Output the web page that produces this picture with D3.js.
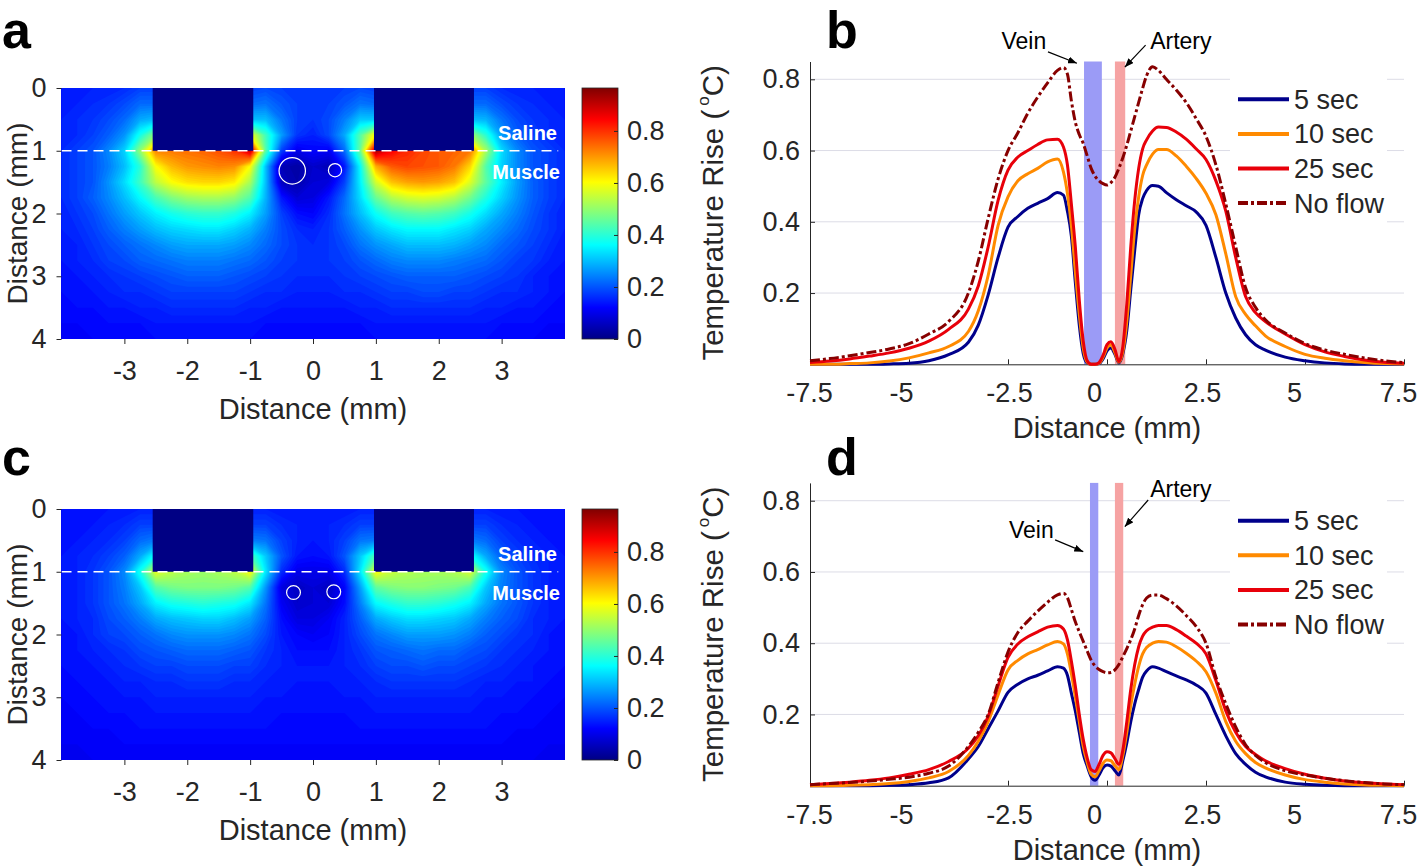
<!DOCTYPE html>
<html><head><meta charset="utf-8">
<script src="https://cdn.jsdelivr.net/npm/d3@7"></script>
<style>
html,body{margin:0;padding:0;background:#fff;}
svg{display:block;font-family:"Liberation Sans",Arial,Helvetica,sans-serif;}
</style></head><body>
<svg id="fig" width="1418" height="868"></svg>
<script>
// ---------------- DATA ----------------
// Heat-map grid (panels a, c): columns = lateral distance (mm), rows = depth (mm)
const heatCols = [-4,-3.75,-3.5,-3.25,-3,-2.75,-2.5,-2.25,-2,-1.75,-1.5,-1.25,-1,-0.75,-0.5,-0.25,0,0.25,0.5,0.75,1,1.25,1.5,1.75,2,2.25,2.5,2.75,3,3.25,3.5,3.75,4];
const heatRows = [0,0.25,0.5,0.75,1,1.25,1.5,1.75,2,2.25,2.5,2.75,3,3.25,3.5,3.75,4];
// temperature rise in hundredths of a degree C, panel a
const heatA = [
[14,14,15,15,16,18, 18,18,18,18,18,18,18, 19,18,17,17,17,18,19, 18,18,18,18,18,18,18, 18,16,15,15,14,14],
[14,15,16,17,19,22, 22,20,20,20,20,20,22, 23,20,18,17,18,20,23, 22,20,20,20,20,20,22, 22,19,17,16,15,14],
[15,16,17,19,22,28, 30,26,25,25,25,26,30, 30,23,18,17,19,24,31, 31,26,25,25,25,26,30, 29,23,19,17,16,15],
[15,16,18,21,26,38, 50,55,55,55,55,56,60, 42,27,17,15,19,28,44, 62,58,56,56,56,55,52, 40,27,21,18,16,15],
[16,18,20,25,32,50, 72,73,74,75,77,80,90, 44,18,10,12,11,22,46, 93,85,81,78,76,75,73, 52,33,25,20,18,16],
[16,18,20,24,30,40, 60,67,70,71,72,71,60, 30,5,3,7,5,14,36, 68,76,78,77,76,73,64, 44,32,25,20,18,16],
[16,18,20,26,33,42, 54,60,63,64,64,62,52, 30,6,4,8,9,18,35, 56,66,69,70,69,66,57, 45,35,27,21,18,16],
[16,18,21,25,30,36, 43,48,51,52,52,50,44, 29,14,8,9,14,22,33, 46,53,56,57,56,53,47, 39,32,26,21,18,16],
[15,17,19,23,27,31, 35,38,40,41,41,39,35, 27,18,13,12,16,23,30, 37,42,44,45,44,42,38, 33,28,24,20,17,15],
[15,16,18,21,24,27, 30,32,33,34,34,32,29, 24,19,16,15,17,21,26, 31,34,36,36,36,34,32, 28,25,22,19,17,15],
[14,15,17,19,21,23, 25,27,28,28,28,27,25, 22,19,17,16,17,19,23, 26,28,30,30,30,29,27, 25,22,20,18,16,14],
[14,15,16,18,19,21, 22,23,24,24,24,23,22, 20,18,17,16,17,18,20, 22,24,25,25,25,24,23, 22,20,18,17,15,14],
[13,14,15,16,17,18, 19,20,21,21,21,20,19, 18,17,16,16,16,17,18, 19,20,21,21,21,21,20, 19,18,17,15,14,13],
[13,13,14,15,16,16, 17,18,18,18,18,18,17, 16,16,15,15,15,16,16, 17,18,18,19,19,18,18, 17,16,16,15,14,13],
[12,13,13,14,14,15, 15,16,16,16,16,16,15, 15,14,14,14,14,14,15, 15,16,16,16,16,16,16, 15,15,14,14,13,12],
[12,12,12,13,13,13, 14,14,14,14,14,14,14, 13,13,13,13,13,13,13, 14,14,14,14,14,14,14, 14,13,13,13,12,12],
[11,11,12,12,12,12, 13,13,13,13,13,13,13, 12,12,12,12,12,12,12, 13,13,13,13,13,13,13, 13,12,12,12,11,11]
];
// panel c
const heatC = [
[13,13,13,14,14,15, 15,15,15,15,15,15,15, 15,14,14,14,14,14,15, 15,15,15,15,15,15,15, 15,14,14,13,13,13],
[13,13,14,15,16,18, 18,17,17,17,17,17,18, 18,16,15,14,15,16,18, 18,17,17,17,17,17,18, 18,16,15,14,13,13],
[13,14,15,16,18,22, 24,22,21,21,21,22,24, 23,18,15,14,15,18,23, 24,22,21,21,21,22,24, 22,18,16,15,14,13],
[14,15,16,18,21,28, 38,42,42,42,42,42,44, 31,20,14,13,14,20,31, 44,42,42,42,42,42,38, 28,21,18,16,15,14],
[14,15,17,20,25,38, 58,54,52,51,52,54,60, 34,16,10,10,10,16,34, 60,55,53,52,52,53,57, 38,25,20,17,15,14],
[14,15,17,20,24,31, 44,47,48,48,48,47,44, 26,9,6,8,6,12,27, 45,48,49,49,48,47,43, 31,24,20,17,15,14],
[14,15,17,20,23,28, 35,38,39,40,39,38,34, 23,11,7,8,8,13,24, 36,39,41,41,40,38,35, 28,23,20,17,15,14],
[14,15,16,19,21,24, 28,30,31,32,32,30,27, 21,13,9,9,11,15,21, 28,31,33,33,32,31,28, 24,21,19,16,15,14],
[13,14,16,18,19,21, 23,25,26,26,26,25,23, 19,14,12,11,12,15,19, 23,25,27,27,27,26,24, 21,19,17,16,14,13],
[13,14,15,16,17,19, 20,21,22,22,22,21,20, 17,15,13,13,13,15,17, 20,21,22,23,22,22,20, 19,17,16,15,14,13],
[13,13,14,15,16,17, 18,18,19,19,19,18,18, 16,15,14,14,14,15,16, 18,19,19,20,19,19,18, 17,16,15,14,13,13],
[12,13,13,14,15,15, 16,16,17,17,17,16,16, 15,14,14,14,14,14,15, 16,17,17,17,17,17,16, 15,15,14,14,13,12],
[12,12,13,13,14,14, 15,15,15,15,15,15,15, 14,14,13,13,13,14,14, 15,15,15,15,15,15,15, 14,14,13,13,12,12],
[11,12,12,13,13,13, 14,14,14,14,14,14,14, 13,13,13,13,13,13,13, 14,14,14,14,14,14,14, 13,13,13,12,12,11],
[11,11,12,12,12,13, 13,13,13,13,13,13,13, 13,12,12,12,12,12,13, 13,13,13,13,13,13,13, 13,12,12,12,11,11],
[11,11,11,11,12,12, 12,12,12,12,12,12,12, 12,12,12,12,12,12,12, 12,12,12,12,12,12,12, 12,12,11,11,11,11],
[10,10,11,11,11,11, 11,11,11,11,11,11,11, 11,11,11,11,11,11,11, 11,11,11,11,11,11,11, 11,11,11,11,10,10]
];
const electrodes = [{x0:-2.55, x1:-0.95, depth:1}, {x0:0.97, x1:2.56, depth:1}];
const salineDepth = 1;
const vesselsA = [{x:-0.33, y:1.32, r:0.21}, {x:0.35, y:1.31, r:0.105}];
const vesselsC = [{x:-0.31, y:1.33, r:0.11}, {x:0.33, y:1.32, r:0.11}];
const heatXTicks = [-3,-2,-1,0,1,2,3];
const heatYTicks = [0,1,2,3,4];
const cbarTicks = [0,0.2,0.4,0.6,0.8];
const cbarMax = 0.965;

// Line profiles (panels b, d)
const profileX = [-7.5,-7,-6.5,-6,-5.5,-5,-4.5,-4,-3.5,-3.25,-3,-2.75,-2.5,-2.25,-2,-1.75,-1.5,-1.25,-1.1,-1,-0.9,-0.8,-0.7,-0.6,-0.5,-0.4,-0.3,-0.2,-0.1,0,0.1,0.2,0.3,0.4,0.5,0.6,0.7,0.8,0.9,1,1.15,1.3,1.5,1.75,2,2.25,2.5,2.75,3,3.25,3.5,3.75,4,4.5,5,5.5,6,6.5,7,7.5];
const seriesNames = ["5 sec","10 sec","25 sec","No flow"];
const seriesColors = ["#00008b","#ff8a00","#e8000a","#870000"];
const seriesDash = [null,null,null,"10,3,3,3"];
const b5 = [0,0,0,0,0.001,0.003,0.01,0.027, 0.062,0.11,0.195,0.3,0.385,0.415,0.438,0.452,0.465,0.482, 0.475,0.43,0.36,0.23,0.11,0.03,0.004,0,0,0.002,0.015, 0.038, 0.046,0.028,0.004,0.03,0.095,0.21,0.32,0.42,0.465,0.488, 0.502,0.5,0.482,0.462,0.445,0.428,0.39,0.3,0.2,0.13,0.083,0.055,0.04, 0.02,0.01,0.004,0.001,0,0,0];
const b10 = [0,0,0.002,0.004,0.009,0.018,0.032,0.05, 0.092,0.15,0.25,0.39,0.47,0.515,0.535,0.55,0.568,0.576, 0.54,0.48,0.39,0.26,0.14,0.045,0.006,0,0,0.003,0.02, 0.046, 0.055,0.033,0.006,0.035,0.12,0.25,0.38,0.47,0.53,0.56, 0.59,0.603,0.603,0.585,0.556,0.522,0.48,0.42,0.31,0.19,0.14,0.108,0.08, 0.05,0.028,0.017,0.01,0.005,0.002,0.001];
const b25 = [0.005,0.009,0.015,0.023,0.032,0.045,0.065,0.098, 0.155,0.22,0.33,0.46,0.545,0.582,0.6,0.617,0.63,0.632, 0.61,0.56,0.45,0.33,0.18,0.065,0.01,0,0,0.005,0.025, 0.055, 0.063,0.042,0.008,0.05,0.17,0.33,0.46,0.55,0.605,0.63, 0.655,0.666,0.665,0.652,0.632,0.605,0.575,0.515,0.43,0.3,0.19,0.145,0.12, 0.085,0.055,0.035,0.022,0.012,0.006,0.003];
const bNF = [0.01,0.016,0.024,0.033,0.043,0.058,0.085,0.12, 0.2,0.29,0.41,0.52,0.6,0.65,0.705,0.75,0.79,0.825, 0.833,0.815,0.74,0.68,0.645,0.62,0.585,0.55,0.528,0.515,0.507, 0.503, 0.51,0.525,0.55,0.58,0.615,0.655,0.695,0.735,0.775,0.81, 0.835,0.825,0.8,0.77,0.735,0.69,0.64,0.56,0.45,0.33,0.215,0.16,0.125, 0.088,0.058,0.04,0.028,0.018,0.01,0.005];
const d5 = [0,0,0,0,0.001,0.003,0.008,0.022, 0.075,0.11,0.16,0.21,0.262,0.285,0.3,0.31,0.322,0.334, 0.33,0.31,0.26,0.21,0.15,0.09,0.055,0.025,0.015,0.03,0.05, 0.058, 0.055,0.042,0.03,0.07,0.12,0.18,0.23,0.27,0.305,0.322, 0.334,0.33,0.32,0.308,0.297,0.283,0.26,0.2,0.14,0.09,0.06,0.038,0.025, 0.01,0.004,0.001,0,0,0,0];
const d10 = [0,0,0.001,0.003,0.006,0.012,0.022,0.04, 0.085,0.125,0.18,0.255,0.325,0.352,0.37,0.382,0.395,0.405, 0.398,0.37,0.315,0.25,0.18,0.11,0.065,0.032,0.025,0.042,0.063, 0.072, 0.07,0.056,0.045,0.085,0.15,0.225,0.285,0.335,0.37,0.388, 0.4,0.405,0.403,0.39,0.372,0.35,0.32,0.26,0.18,0.125,0.09,0.065,0.05, 0.03,0.017,0.01,0.005,0.002,0.001,0];
const d25 = [0.003,0.006,0.01,0.015,0.022,0.032,0.045,0.068, 0.105,0.14,0.195,0.28,0.36,0.398,0.418,0.432,0.445,0.45, 0.44,0.41,0.35,0.28,0.2,0.13,0.078,0.045,0.04,0.06,0.085, 0.095, 0.092,0.076,0.06,0.1,0.18,0.27,0.34,0.39,0.42,0.435, 0.445,0.45,0.45,0.438,0.42,0.4,0.37,0.295,0.21,0.15,0.11,0.088,0.07, 0.048,0.032,0.021,0.013,0.008,0.005,0.003];
const dNF = [0.003,0.006,0.009,0.013,0.018,0.024,0.035,0.055, 0.11,0.15,0.2,0.29,0.375,0.43,0.462,0.49,0.515,0.536, 0.54,0.528,0.495,0.46,0.432,0.405,0.378,0.352,0.336,0.326,0.32, 0.317, 0.318,0.325,0.34,0.362,0.385,0.41,0.44,0.478,0.508,0.527, 0.535,0.535,0.525,0.505,0.478,0.447,0.4,0.305,0.23,0.165,0.115,0.085,0.065, 0.042,0.03,0.021,0.014,0.009,0.005,0.003];
const profileXTicks = [-7.5,-5,-2.5,0,2.5,5,7.5];
const profileYTicks = [0.2,0.4,0.6,0.8];
const bandsB = [{name:"Vein", center:-0.355, half:0.225, fill:"#9b9bf6"}, {name:"Artery", center:0.33, half:0.13, fill:"#f6a3a3"}];
const bandsD = [{name:"Vein", center:-0.325, half:0.105, fill:"#9b9bf6"}, {name:"Artery", center:0.305, half:0.105, fill:"#f6a3a3"}];
// annotation anchors in data units: text pos, arrow start, arrow tip
const annB = [
  {label:"Vein", anchor:"middle", tx:-2.1, ty:0.885, x1:-1.49, y1:0.877, x2:-0.76, y2:0.845},
  {label:"Artery", anchor:"start", tx:1.09, ty:0.885, x1:0.975, y1:0.896, x2:0.45, y2:0.834}
];
const annD = [
  {label:"Vein", anchor:"middle", tx:-1.91, ty:0.695, x1:-1.31, y1:0.69, x2:-0.6, y2:0.657},
  {label:"Artery", anchor:"start", tx:1.09, ty:0.81, x1:1.04, y1:0.802, x2:0.45, y2:0.727}
];

// ---------------- DRAW ----------------
const svg = d3.select("#fig");
const defs = svg.append("defs");
const TXT = "#262626";
const jetStops = [0,0.125,0.375,0.625,0.875,1];
const jetColors = ["#000084","#0000ff","#00ffff","#ffff00","#ff0000","#800000"];
const jet = d3.scaleLinear().domain(jetStops.map(t=>t*cbarMax)).range(jetColors).clamp(true);
const thStep = 0.01;
const heatThresholds = d3.range(0, 1.0, thStep);
// small horizontal nudges of the profile x tick labels (as placed in the original figure)
const xLabelNudge = [-1,-8,1,-13,-4,-11,-6];

const grad = defs.append("linearGradient").attr("id","jetGrad").attr("x1",0).attr("y1",1).attr("x2",0).attr("y2",0);
jetStops.forEach((t,i)=>grad.append("stop").attr("offset",t).attr("stop-color",jetColors[i]));

defs.append("marker").attr("id","arrow").attr("markerUnits","userSpaceOnUse")
  .attr("markerWidth",9).attr("markerHeight",7).attr("refX",9).attr("refY",3.5).attr("orient","auto")
  .append("path").attr("d","M0,0 L9,3.5 L0,7 Z").attr("fill","#000");

function styleAxis(g, size){
  g.selectAll("text").attr("font-size",size).attr("fill",TXT).attr("font-family","Liberation Sans, Arial, sans-serif");
  g.selectAll("line").attr("stroke",TXT);
  g.selectAll(".domain").attr("stroke",TXT);
}

function heatPanel(p){
  const x = d3.scaleLinear().domain([-4,4]).range([61.5,564.5]);
  const y = d3.scaleLinear().domain([0,4]).range([p.top,p.bottom]);
  const g = svg.append("g");
  const cid = "clip"+p.letter;
  defs.append("clipPath").attr("id",cid).append("rect")
    .attr("x",x(-4)).attr("y",y(0)).attr("width",x(4)-x(-4)).attr("height",y(4)-y(0));
  const hg = g.append("g").attr("clip-path",`url(#${cid})`);
  const nx = heatCols.length, ny = heatRows.length;
  const dx = heatCols[1]-heatCols[0], dy = heatRows[1]-heatRows[0];
  const values = p.grid.flat().map(v=>v/100);
  const contours = d3.contours().size([nx,ny]).thresholds(heatThresholds)(values);
  const proj = d3.geoTransform({point: function(u,v){ this.stream.point(x(heatCols[0]+(u-0.5)*dx), y(heatRows[0]+(v-0.5)*dy)); }});
  const path = d3.geoPath(proj);
  hg.selectAll("path.cont").data(contours).join("path").attr("class","cont")
    .attr("d",path).attr("fill",d=>jet(d.value+thStep/2));
  hg.selectAll("rect.el").data(electrodes).join("rect").attr("class","el")
    .attr("x",d=>x(d.x0)).attr("width",d=>x(d.x1)-x(d.x0))
    .attr("y",y(0)).attr("height",d=>y(d.depth)-y(0)).attr("fill",jet(0));
  hg.append("line").attr("x1",x(-4)).attr("x2",x(3.9)).attr("y1",y(salineDepth)).attr("y2",y(salineDepth))
    .attr("stroke","#fff").attr("stroke-width",1.6).attr("stroke-dasharray","10,6");
  hg.selectAll("circle.v").data(p.vessels).join("circle").attr("class","v")
    .attr("cx",d=>x(d.x)).attr("cy",d=>y(d.y)).attr("r",d=>x(d.r)-x(0))
    .attr("fill","none").attr("stroke","#fff").attr("stroke-width",1.2);
  g.append("text").attr("x",557).attr("y",y(salineDepth)-11).attr("text-anchor","end")
    .attr("font-size",20).attr("font-weight","bold").attr("fill","#fff").text("Saline");
  g.append("text").attr("x",560).attr("y",y(salineDepth)+28).attr("text-anchor","end")
    .attr("font-size",20).attr("font-weight","bold").attr("fill","#fff").text("Muscle");
  // axes
  const gx = g.append("g").attr("transform",`translate(0,${y(4)})`)
    .call(d3.axisBottom(x).tickValues(heatXTicks).tickSize(5).tickPadding(17).tickFormat(d=>String(d)));
  gx.select(".domain").remove(); styleAxis(gx,27);
  const gy = g.append("g").attr("transform",`translate(${x(-4)},0)`)
    .call(d3.axisLeft(y).tickValues(heatYTicks).tickSize(5).tickPadding(10).tickFormat(d=>String(d)));
  gy.select(".domain").remove(); styleAxis(gy,27);
  g.append("text").attr("x",x(0)).attr("y",p.bottom+79.5).attr("text-anchor","middle")
    .attr("font-size",29).attr("fill",TXT).text("Distance (mm)");
  g.append("text").attr("transform",`translate(27,${(p.top+p.bottom)/2}) rotate(-90)`).attr("text-anchor","middle")
    .attr("font-size",28).attr("fill",TXT).text("Distance (mm)");
  // colorbar
  const cy = d3.scaleLinear().domain([0,cbarMax]).range([p.bottom,p.top]);
  g.append("rect").attr("x",582).attr("y",p.top).attr("width",36).attr("height",p.bottom-p.top)
    .attr("fill","url(#jetGrad)").attr("stroke",TXT).attr("stroke-width",0.8);
  const gc = g.append("g").attr("transform","translate(618,0)")
    .call(d3.axisRight(cy).tickValues(cbarTicks).tickSize(-4).tickPadding(9).tickFormat(d=>d===0?"0":d.toFixed(1)));
  gc.select(".domain").remove(); styleAxis(gc,27);
  // panel letter
  svg.append("text").attr("x",2).attr("y",p.letterY).attr("font-size",52).attr("font-weight","bold")
    .attr("fill","#000").attr("font-family","Liberation Sans, Arial, sans-serif").text(p.letter);
}

function profilePanel(p){
  const x = d3.scaleLinear().domain([-7.5,7.5]).range([810,1404]);
  const y = d3.scaleLinear().domain([0,0.85]).range([p.bottom,p.top]);
  const g = svg.append("g");
  // grid
  g.selectAll("line.grid").data(profileYTicks).join("line").attr("class","grid")
    .attr("x1",x(-7.5)).attr("x2",x(7.5)).attr("y1",d=>y(d)).attr("y2",d=>y(d))
    .attr("stroke","#dcdce6").attr("stroke-width",1);
  // vessel bands
  g.selectAll("rect.band").data(p.bands).join("rect").attr("class","band")
    .attr("x",d=>x(d.center-d.half)).attr("width",d=>x(d.center+d.half)-x(d.center-d.half))
    .attr("y",y(0.85)).attr("height",y(0)-y(0.85)).attr("fill",d=>d.fill);
  // legend background
  g.append("rect").attr("x",1230).attr("y",y(0.8)-11).attr("width",157).attr("height",162).attr("fill","#fff");
  // axes
  const gx = g.append("g").attr("transform",`translate(0,${y(0)})`)
    .call(d3.axisBottom(x).tickValues(profileXTicks).tickSizeInner(-5).tickSizeOuter(0).tickPadding(19).tickFormat(d=>String(d)));
  styleAxis(gx,27);
  gx.selectAll(".tick text").attr("dx",(d,i)=>xLabelNudge[i]);
  const gy = g.append("g").attr("transform",`translate(${x(-7.5)},0)`)
    .call(d3.axisLeft(y).tickValues(profileYTicks).tickSizeInner(-5).tickSizeOuter(0).tickPadding(10).tickFormat(d3.format(".1f")));
  styleAxis(gy,27);
  // curves
  const line = d3.line().x((d,i)=>x(profileX[i])).y(d=>y(d)).curve(d3.curveMonotoneX);
  g.selectAll("path.curve").data(p.series).join("path").attr("class","curve")
    .attr("d",d=>line(d)).attr("fill","none")
    .attr("stroke",(d,i)=>seriesColors[i]).attr("stroke-width",3)
    .attr("stroke-dasharray",(d,i)=>seriesDash[i]).attr("stroke-linejoin","round");
  // legend
  const lg = g.append("g");
  seriesNames.forEach((nm,i)=>{
    const ly = y(0.8)+20+i*34.6;
    lg.append("line").attr("x1",1238).attr("x2",1289).attr("y1",ly).attr("y2",ly)
      .attr("stroke",seriesColors[i]).attr("stroke-width",4).attr("stroke-dasharray",seriesDash[i]);
    lg.append("text").attr("x",1294).attr("y",ly+9.5).attr("font-size",27).attr("fill",TXT).text(nm);
  });
  // annotations
  p.ann.forEach(a=>{
    g.append("text").attr("x",x(a.tx)).attr("y",y(a.ty)).attr("text-anchor",a.anchor)
      .attr("font-size",23).attr("fill","#000").text(a.label);
    g.append("line").attr("x1",x(a.x1)).attr("y1",y(a.y1)).attr("x2",x(a.x2)).attr("y2",y(a.y2))
      .attr("stroke","#000").attr("stroke-width",1.2).attr("marker-end","url(#arrow)");
  });
  // labels
  g.append("text").attr("x",x(0)).attr("y",p.bottom+74).attr("text-anchor","middle")
    .attr("font-size",29).attr("fill",TXT).text("Distance (mm)");
  const yl = g.append("text").attr("transform",`translate(723,${(p.top+p.bottom)/2}) rotate(-90)`)
    .attr("text-anchor","middle").attr("font-size",29.5).attr("fill",TXT);
  yl.append("tspan").text("Temperature Rise (");
  yl.append("tspan").attr("font-size",17).attr("dy",-14).attr("dx",4).text("o");
  yl.append("tspan").attr("dy",14).text("C)");
  svg.append("text").attr("x",826).attr("y",p.letterY).attr("font-size",52).attr("font-weight","bold")
    .attr("fill","#000").attr("font-family","Liberation Sans, Arial, sans-serif").text(p.letter);
}

heatPanel({letter:"a", top:88, bottom:339, grid:heatA, vessels:vesselsA, letterY:48});
heatPanel({letter:"c", top:509, bottom:760, grid:heatC, vessels:vesselsC, letterY:475});
profilePanel({letter:"b", top:61.5, bottom:364.3, series:[b5,b10,b25,bNF], bands:bandsB, ann:annB, letterY:48});
profilePanel({letter:"d", top:482.9, bottom:785.7, series:[d5,d10,d25,dNF], bands:bandsD, ann:annD, letterY:475});
</script>
</body></html>
